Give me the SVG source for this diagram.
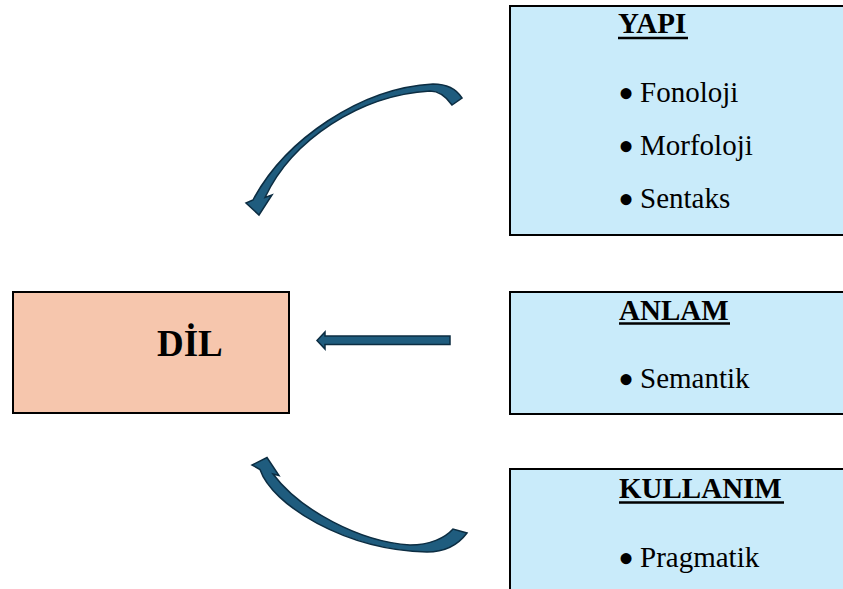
<svg xmlns="http://www.w3.org/2000/svg" width="843" height="589" viewBox="0 0 843 589">
<style>
.box{fill:#C9EBFA;stroke:#000;stroke-width:2}
.dil{fill:#F6C6AD;stroke:#000;stroke-width:2}
.hd{font-family:"Liberation Serif","Times New Roman",serif;font-weight:bold;font-size:29px;fill:#000}
.it{font-family:"Liberation Serif","Times New Roman",serif;font-size:29px;fill:#000}
.bu{font-family:"Liberation Serif","Times New Roman",serif;font-size:46px;fill:#000}
.ul{stroke:#000;stroke-width:2.5}
.arr{fill:#1F5C7E;stroke:#0C2D42;stroke-width:1.5;stroke-linejoin:miter}
</style>
<rect width="843" height="589" fill="#fff"/>
<g id="dil">
<rect class="dil" x="13" y="292" width="276" height="121"/>
<text x="157" y="356" font-family="Liberation Serif, Times New Roman, serif" font-weight="bold" font-size="37">DİL</text>
</g>
<g id="yapi">
<rect class="box" x="510" y="6" width="340" height="229"/>
<text class="hd" x="618" y="33">YAPI</text>
<line class="ul" x1="618" y1="38" x2="688" y2="38"/>
<text class="bu" x="626" y="109" text-anchor="middle">•</text>
<text class="it" x="640" y="102">Fonoloji</text>
<text class="bu" x="626" y="162" text-anchor="middle">•</text>
<text class="it" x="640" y="155">Morfoloji</text>
<text class="bu" x="626" y="215" text-anchor="middle">•</text>
<text class="it" x="640" y="208">Sentaks</text>
</g>
<g id="anlam">
<rect class="box" x="510" y="292" width="340" height="122"/>
<text class="hd" x="619" y="320">ANLAM</text>
<line class="ul" x1="619" y1="323.5" x2="730" y2="323.5"/>
<text class="bu" x="626" y="395" text-anchor="middle">•</text>
<text class="it" x="640" y="388">Semantik</text>
</g>
<g id="kullanim">
<rect class="box" x="510" y="469" width="340" height="130"/>
<text class="hd" x="619" y="498">KULLANIM</text>
<line class="ul" x1="619" y1="502.5" x2="784" y2="502.5"/>
<text class="bu" x="626" y="574" text-anchor="middle">•</text>
<text class="it" x="640" y="567">Pragmatik</text>
</g>
<g id="connectors">
<path class="arr" d="M 462,98 C 457,90 448,84 433,84 C 360,88 285,140 253,200 L 246,203 L 259,215 L 272,195 L 265,197.5 C 292,140 360,95 430,91 C 438,91 445,95 452,105 Z"/>
<path class="arr" d="M 450,336 L 325,336 L 325,332 L 317,340.5 L 325,349 L 325,344.5 L 450,344.5 Z"/>
<path class="arr" d="M 453,529 C 445,538 430,545 410,545 C 360,542 300,510 273,474 L 279,475.5 L 267,457.5 L 252,465 L 260,469.5 C 272,505 345,550 427,552 C 445,552 458,545 467,533 Z"/>
</g>
</svg>
